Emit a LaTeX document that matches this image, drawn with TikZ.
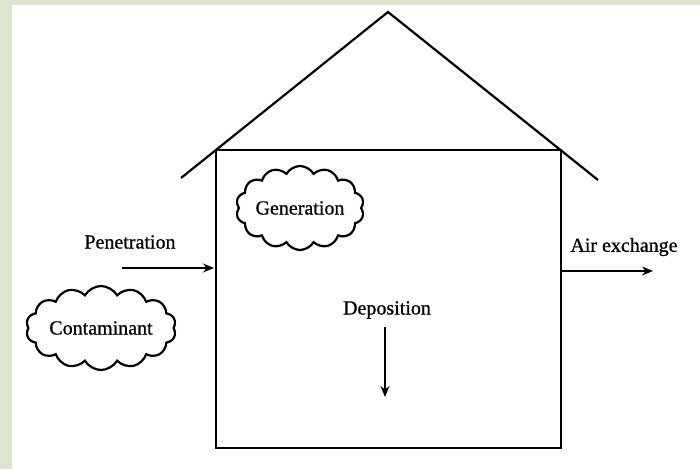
\documentclass[tikz,border=0pt]{standalone}
\usepackage{fontspec}
\setmainfont{Liberation Serif}[FakeBold=0.8]
\usetikzlibrary{shapes.symbols,arrows.meta}
\definecolor{frame}{HTML}{DDE5CC}
\tikzset{
  wall/.style={line width=2.6pt, line join=miter},
  roof/.style={line width=2.2pt},
  flow/.style={line width=1.5pt, -{Stealth[length=11pt,width=9pt]}},
  lbl/.style={font=\fontsize{20}{24}\selectfont, inner sep=0pt},
  puff/.style={cloud, draw, line width=2.2pt, cloud puffs=14, cloud puff arc=120, cloud ignores aspect, inner sep=0pt, font=\fontsize{20}{24}\selectfont}
}
\begin{document}
\begin{tikzpicture}[x=1pt,y=-1pt]
\fill[frame] (0,0) rectangle (700,469);
\fill[white] (12,5) rectangle (700,469);
\useasboundingbox (0,0) rectangle (700,469);
% house
\coordinate (apex) at (388,12);
\coordinate (rl) at (181,178);
\coordinate (rr) at (598,180);
\draw[roof] (rl) -- (apex) -- (rr);
\draw[wall] (216,150) rectangle (561,448);
\coordinate (wl) at (214,268);
\coordinate (wr) at (562,271);
% clouds
\node[puff, minimum width=128pt, minimum height=84pt] (gen) at (300,208) {Generation};
\node[puff, minimum width=150pt, minimum height=84pt] (cont) at (101,328) {Contaminant};
% labels
\node[lbl] (pen) at (130,242) {Penetration};
\node[lbl] (air) at (624,247) {Air exchange};
\node[lbl] (dep) at (387,310) {Deposition};
\coordinate (ps) at (122,268);
\coordinate (ae) at (653,271);
\coordinate (ds) at (385,327);
\coordinate (de) at (385,397);
\draw[flow] (ps) -- (wl);
\draw[flow] (wr) -- (ae);
\draw[flow] (ds) -- (de);
\end{tikzpicture}
\end{document}
